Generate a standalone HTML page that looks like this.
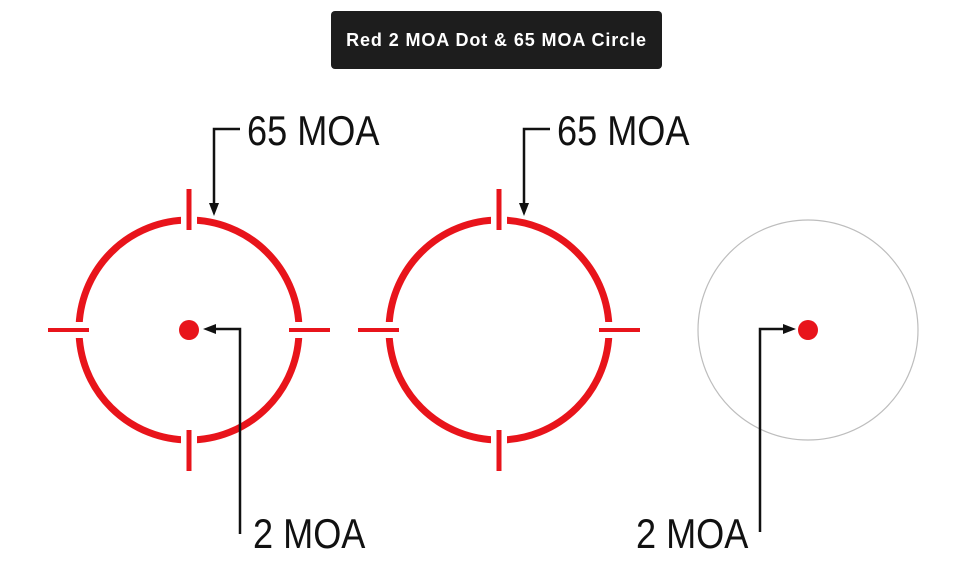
<!DOCTYPE html>
<html><head><meta charset="utf-8"><style>
html,body{margin:0;padding:0;background:#fff;}
body{width:973px;height:578px;position:relative;overflow:hidden;}
.title{position:absolute;left:331px;top:11px;width:331px;height:58px;background:#1d1d1d;border-radius:4px;color:#fff;font:bold 18px "Liberation Sans",sans-serif;display:flex;align-items:center;justify-content:center;letter-spacing:0.9px;}
svg{position:absolute;left:0;top:0;}
text{font-family:"Liberation Sans",sans-serif;font-size:42px;fill:#111;}
</style></head><body>
<div class="title">Red 2 MOA Dot &amp; 65 MOA Circle</div>
<svg width="973" height="578" viewBox="0 0 973 578">
<defs>
<g id="ret">
  <circle cx="0" cy="0" r="110" fill="none" stroke="#e8141b" stroke-width="7"/>
  <rect x="-8" y="-118" width="16" height="16" fill="#fff"/>
  <rect x="-8" y="102" width="16" height="16" fill="#fff"/>
  <rect x="-118" y="-8" width="16" height="16" fill="#fff"/>
  <rect x="102" y="-8" width="16" height="16" fill="#fff"/>
  <line x1="0" y1="-141" x2="0" y2="-100" stroke="#e8141b" stroke-width="5"/>
  <line x1="0" y1="100" x2="0" y2="141" stroke="#e8141b" stroke-width="5"/>
  <line x1="-141" y1="0" x2="-100" y2="0" stroke="#e8141b" stroke-width="4"/>
  <line x1="100" y1="0" x2="141" y2="0" stroke="#e8141b" stroke-width="4"/>
</g>
<g id="top65">
  <polyline points="240,129 214,129 214,205" fill="none" stroke="#111" stroke-width="2.5"/>
  <polygon points="209,203 219,203 214,216" fill="#111"/>
  <text x="247" y="145" transform="translate(247 0) scale(0.86 1) translate(-247 0)">65 MOA</text>
</g>
</defs>
<use href="#ret" transform="translate(189 330)"/>
<circle cx="189" cy="330" r="10" fill="#e8141b"/>
<use href="#top65"/>
<polyline points="240,534 240,329 214,329" fill="none" stroke="#111" stroke-width="2.5"/>
<polygon points="203,329 216,324 216,334" fill="#111"/>
<text x="253" y="548" transform="translate(253 0) scale(0.86 1) translate(-253 0)">2 MOA</text>

<use href="#ret" transform="translate(499 330)"/>
<use href="#top65" transform="translate(310 0)"/>

<circle cx="808" cy="330" r="110" fill="none" stroke="#bdbdbd" stroke-width="1.2"/>
<circle cx="808" cy="330" r="10" fill="#e8141b"/>
<polyline points="760,532 760,329 785,329" fill="none" stroke="#111" stroke-width="2.5"/>
<polygon points="796,329 783,324 783,334" fill="#111"/>
<text x="636" y="548" transform="translate(636 0) scale(0.86 1) translate(-636 0)">2 MOA</text>
</svg>
</body></html>
